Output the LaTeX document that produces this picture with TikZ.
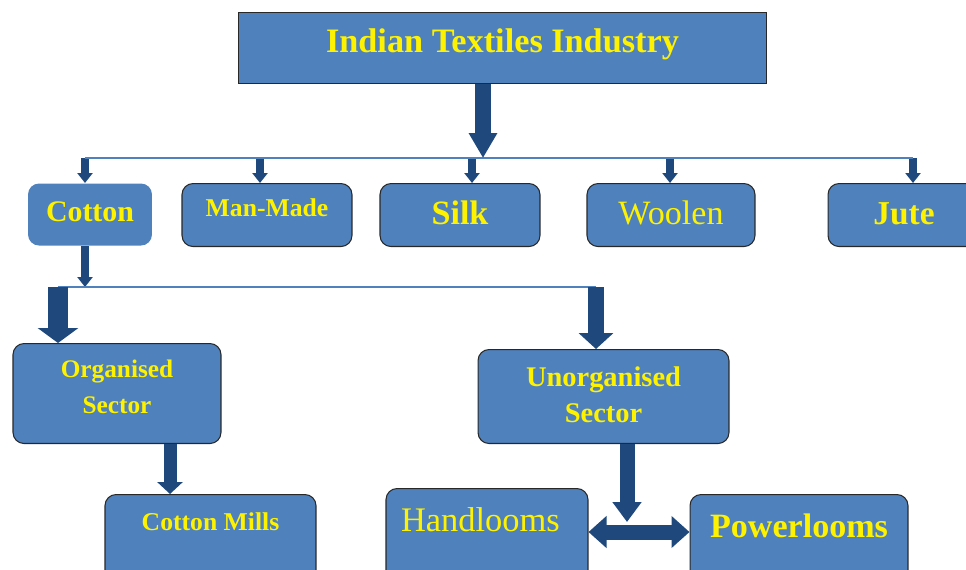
\documentclass[tikz,border=0pt]{standalone}
\usepackage{fontspec}
\setmainfont{Liberation Serif}
\usetikzlibrary{arrows.meta}
\definecolor{boxblue}{RGB}{79,129,189}
\definecolor{arrowblue}{RGB}{31,73,125}
\definecolor{edgegray}{RGB}{40,40,40}

\begin{document}
\begin{tikzpicture}[x=0.02cm, y=-0.02cm,
    box/.style={draw=edgegray, line width=0.6pt, fill=boxblue, rounded corners=0.22cm,
      anchor=north, inner sep=0pt, text=yellow},
    bold/.style={font=\fontsize{#1}{20}\selectfont\bfseries},
    plain/.style={font=\fontsize{#1}{20}\selectfont},
    bus/.style={boxblue, line width=0.7pt},
    blk/.style n args={3}{arrowblue, line width=#1, -{Triangle[width=#2, length=#3]}}]
  \useasboundingbox (0,0) rectangle (966,569);
  \clip (0,0) rectangle (966,569);

  % top
  \node[box, sharp corners, bold=19.5, minimum width=10.58cm, text height=0.79cm, text depth=0.63cm] (title) at (502.5,12) {Indian Textiles Industry};

  % fibres
  \node[box, draw=none, bold=17, minimum width=2.48cm, text height=0.76cm, text depth=0.48cm] (cotton) at (90,183) {Cotton};
  \node[box, bold=14.6, minimum width=3.4cm, text height=0.65cm, text depth=0.61cm] (manmade) at (267,183) {Man-Made};
  \node[box, bold=19.4, minimum width=3.2cm, text height=0.81cm, text depth=0.45cm] (silk) at (460,183) {Silk};
  \node[box, plain=19.4, minimum width=3.36cm, text height=0.81cm, text depth=0.45cm] (woolen) at (671,183) {Woolen};
  \node[box, bold=19, minimum width=3.04cm, text height=0.81cm, text depth=0.45cm] (jute) at (904,183) {Jute};

  % sectors
  \node[box, bold=14.4, align=center, minimum width=4.16cm, text height=1.39cm, text depth=0.61cm] (organised) at (117,343) {Organised\\Sector};
  \node[box, bold=16.2, align=center, minimum width=5.02cm, text height=1.45cm, text depth=0.43cm] (unorganised) at (603.5,349) {Unorganised\\Sector};

  % bottom row
  \node[box, bold=14.6, minimum width=4.22cm, text height=0.71cm, text depth=1.5cm] (cottonmills) at (210.5,494) {Cotton Mills};
  \node[box, plain=19.6, inner xsep=0.3cm, text width=3.44cm, align=left, text height=0.85cm, text depth=1.5cm] (handlooms) at (487,488) {Handlooms};
  \node[box, bold=19.4, minimum width=4.36cm, text height=0.86cm, text depth=1.5cm] (powerlooms) at (799,494) {Powerlooms};

  % arrows
  \coordinate (hub1) at (483,158);
  \foreach \n/\x in {cotton/85, manmade/260, silk/472, woolen/670, jute/913}{
    \coordinate (tap-\n) at (\x,158);
    \draw[blk={0.16cm}{0.3cm}{0.2cm}] (tap-\n) -- (tap-\n |- \n.north);
  }
  \draw[bus] (tap-cotton) -- (tap-jute);
  \draw[blk={0.32cm}{0.54cm}{0.5cm}] (hub1 |- title.south) -- (hub1);

  \coordinate (hub2) at (85,287);
  \coordinate (lft) at (58,287);
  \coordinate (rgt) at (596,287);
  \draw[blk={0.16cm}{0.3cm}{0.2cm}] (hub2 |- cotton.south) -- (hub2);
  \draw[bus] (lft) -- (rgt);
  \draw[blk={0.42cm}{0.8cm}{0.3cm}] (lft) -- (lft |- organised.north);
  \draw[blk={0.32cm}{0.68cm}{0.32cm}] (rgt) -- (rgt |- unorganised.north);

  \coordinate (om) at (170,443);
  \draw[blk={0.26cm}{0.5cm}{0.24cm}] (om |- organised.south) -- (om |- cottonmills.north);

  \coordinate (hub3) at (627,532);
  \draw[blk={0.3cm}{0.56cm}{0.4cm}] (hub3 |- unorganised.south) -- ([yshift=0.2cm]hub3);
  \draw[blk={0.3cm}{0.62cm}{0.36cm}, {Triangle[width=0.62cm, length=0.36cm]}-{Triangle[width=0.62cm, length=0.36cm]}] (hub3 -| handlooms.east) -- (hub3 -| powerlooms.west);
\end{tikzpicture}
\end{document}
